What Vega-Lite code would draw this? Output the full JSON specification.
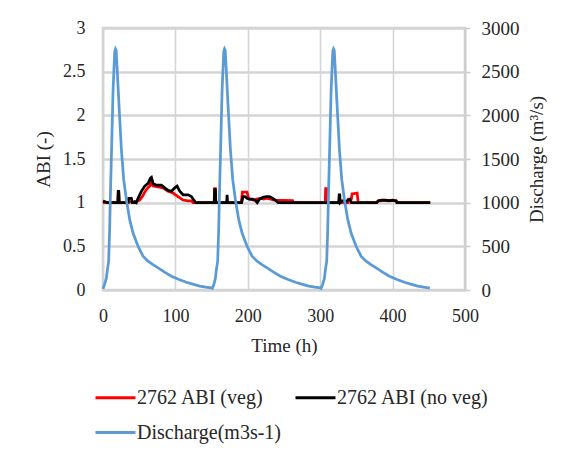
{
  "$schema": "https://vega.github.io/schema/vega-lite/v6.json",
  "width": 362,
  "height": 262,
  "autosize": {"type": "none"},
  "padding": {"left": 103, "top": 28, "right": 107, "bottom": 166},
  "background": "white",
  "config": {
    "font": "Liberation Serif",
    "view": {"stroke": "#d0d0d0", "strokeWidth": 2.5},
    "axis": {
      "labelFont": "Liberation Serif",
      "titleFont": "Liberation Serif",
      "labelFontSize": 18,
      "titleFontSize": 19,
      "titleFontWeight": "normal",
      "labelColor": "#262626",
      "titleColor": "#262626",
      "gridColor": "#d4d4d4",
      "gridOpacity": 1,
      "gridWidth": 1.5,
      "domainColor": "#cccccc",
      "domainWidth": 1.5,
      "tickColor": "#cccccc",
      "tickWidth": 1.5
    }
  },
  "datasets": {
    "veg": [
      {"t":0,"abi":1.0},{"t":20.5,"abi":1.0},{"t":21,"abi":1.1},{"t":21.8,"abi":1.1},{"t":22.4,"abi":1.0},{"t":34,"abi":1.0},{"t":38,"abi":1.01},{"t":45,"abi":1.01},{"t":50.7,"abi":1.03},{"t":55,"abi":1.08},{"t":57.6,"abi":1.12},{"t":59.9,"abi":1.15},{"t":64.5,"abi":1.19},{"t":66,"abi":1.24},{"t":67.5,"abi":1.2},{"t":69.2,"abi":1.19},{"t":76.1,"abi":1.18},{"t":83,"abi":1.17},{"t":89.9,"abi":1.13},{"t":96.8,"abi":1.11},{"t":103.7,"abi":1.07},{"t":110.6,"abi":1.03},{"t":117.5,"abi":1.02},{"t":122.1,"abi":1.02},{"t":124.4,"abi":1.0},
      {"t":153.6,"abi":1.0},{"t":154.2,"abi":1.16},{"t":155.2,"abi":1.16},{"t":155.8,"abi":1.0},{"t":191,"abi":1.0},{"t":192.5,"abi":1.12},{"t":199,"abi":1.12},{"t":201,"abi":1.05},{"t":203,"abi":1.04},{"t":208,"abi":1.03},{"t":212,"abi":1.04},{"t":218,"abi":1.05},{"t":222,"abi":1.04},{"t":226,"abi":1.05},{"t":232,"abi":1.04},{"t":236,"abi":1.03},{"t":262,"abi":1.025},{"t":263,"abi":1.0},
      {"t":307,"abi":1.0},{"t":307.5,"abi":1.16},{"t":310,"abi":1.16},{"t":310.5,"abi":1.0},{"t":338.5,"abi":1.0},{"t":339,"abi":1.04},{"t":343,"abi":1.04},{"t":344,"abi":1.1},{"t":351,"abi":1.11},{"t":352.5,"abi":1.0},{"t":378,"abi":1.0},{"t":380,"abi":1.02},{"t":395,"abi":1.025},{"t":405,"abi":1.02},{"t":406,"abi":1.0},{"t":452,"abi":1.0}
    ],
    "noveg": [
      {"t":0,"abi":1.02},{"t":3,"abi":1.01},{"t":6,"abi":1.0},{"t":20.5,"abi":1.0},{"t":21,"abi":1.13},{"t":21.8,"abi":1.13},{"t":22.4,"abi":1.0},{"t":34.6,"abi":1.0},{"t":35.5,"abi":1.05},{"t":39.2,"abi":1.05},{"t":40.5,"abi":1.0},{"t":43,"abi":1.0},{"t":44,"abi":1.01},{"t":46,"abi":1.0},{"t":48.4,"abi":1.05},{"t":53,"abi":1.13},{"t":57.6,"abi":1.19},{"t":62.2,"abi":1.22},{"t":65.5,"abi":1.28},{"t":66.9,"abi":1.29},{"t":69.2,"abi":1.22},{"t":73.8,"abi":1.2},{"t":80.7,"abi":1.2},{"t":85.3,"abi":1.17},{"t":89.9,"abi":1.14},{"t":94.5,"abi":1.13},{"t":99.1,"abi":1.17},{"t":102.3,"abi":1.19},{"t":106,"abi":1.13},{"t":110.6,"abi":1.09},{"t":117.5,"abi":1.09},{"t":122.1,"abi":1.07},{"t":125.4,"abi":1.03},{"t":128.1,"abi":1.0},
      {"t":153.6,"abi":1.0},{"t":154.2,"abi":1.15},{"t":155.2,"abi":1.15},{"t":155.8,"abi":1.0},{"t":170.8,"abi":1.0},{"t":171.4,"abi":1.09},{"t":172,"abi":1.0},{"t":191.5,"abi":1.0},{"t":193.5,"abi":1.07},{"t":196,"abi":1.07},{"t":199,"abi":1.05},{"t":202,"abi":1.04},{"t":207,"abi":1.04},{"t":211,"abi":1.02},{"t":213,"abi":1.0},{"t":216,"abi":1.04},{"t":221,"abi":1.06},{"t":226,"abi":1.07},{"t":230,"abi":1.07},{"t":234,"abi":1.05},{"t":238,"abi":1.03},{"t":242,"abi":1.0},
      {"t":325.5,"abi":1.0},{"t":326.2,"abi":1.09},{"t":327,"abi":1.09},{"t":327.6,"abi":1.0},{"t":330,"abi":1.02},{"t":333,"abi":1.02},{"t":335,"abi":1.0},{"t":338,"abi":1.03},{"t":341,"abi":1.04},{"t":343,"abi":1.0},{"t":378,"abi":1.0},{"t":380,"abi":1.02},{"t":385,"abi":1.03},{"t":390,"abi":1.03},{"t":395,"abi":1.02},{"t":400,"abi":1.03},{"t":405,"abi":1.02},{"t":406,"abi":1.0},{"t":452,"abi":1.0}
    ],
    "q": [
      {"t":0,"q":15},{"t":2,"q":60},{"t":4.6,"q":133},{"t":5.6,"q":200},{"t":7.8,"q":330},{"t":9.2,"q":700},{"t":10.1,"q":1045},{"t":11.6,"q":1530},{"t":13.9,"q":2291},{"t":16.2,"q":2730},{"t":17.3,"q":2760},{"t":18.2,"q":2745},{"t":19.4,"q":2558},{"t":22.2,"q":2101},{"t":25.4,"q":1606},{"t":28.6,"q":1263},{"t":32.3,"q":1034},{"t":36.9,"q":806},{"t":41.5,"q":653},{"t":48.4,"q":501},{"t":55.3,"q":387},{"t":62.2,"q":330},{"t":69,"q":290},{"t":76.1,"q":253},{"t":85,"q":205},{"t":94.5,"q":158},{"t":105,"q":120},{"t":115.2,"q":89},{"t":125,"q":65},{"t":133.7,"q":44},{"t":142,"q":32},{"t":149.8,"q":25},
      {"t":151,"q":20},{"t":153,"q":60},{"t":155.2,"q":133},{"t":156.4,"q":220},{"t":158.4,"q":330},{"t":159.8,"q":700},{"t":160.7,"q":1045},{"t":162.2,"q":1530},{"t":164.5,"q":2291},{"t":166.8,"q":2730},{"t":167.9,"q":2760},{"t":168.8,"q":2745},{"t":170,"q":2558},{"t":172.8,"q":2101},{"t":176,"q":1606},{"t":179.2,"q":1263},{"t":182.9,"q":1034},{"t":187.5,"q":806},{"t":192.1,"q":653},{"t":199,"q":501},{"t":205.9,"q":387},{"t":212.8,"q":330},{"t":219.6,"q":290},{"t":226.7,"q":253},{"t":235.6,"q":205},{"t":245.1,"q":158},{"t":255.6,"q":120},{"t":265.8,"q":89},{"t":275.6,"q":65},{"t":284.3,"q":44},{"t":292.6,"q":32},{"t":300.4,"q":25},
      {"t":301.2,"q":20},{"t":303.2,"q":60},{"t":305.8,"q":133},{"t":307,"q":220},{"t":309,"q":330},{"t":310.4,"q":700},{"t":311.3,"q":1045},{"t":312.8,"q":1530},{"t":315.1,"q":2291},{"t":317.4,"q":2730},{"t":318.5,"q":2760},{"t":319.4,"q":2745},{"t":320.6,"q":2558},{"t":323.4,"q":2101},{"t":326.6,"q":1606},{"t":329.8,"q":1263},{"t":333.5,"q":1034},{"t":338.1,"q":806},{"t":342.7,"q":653},{"t":349.6,"q":501},{"t":356.5,"q":387},{"t":363.4,"q":330},{"t":370.2,"q":290},{"t":377.3,"q":253},{"t":386.2,"q":205},{"t":395.7,"q":158},{"t":406.2,"q":120},{"t":416.4,"q":89},{"t":426.2,"q":65},{"t":434.9,"q":44},{"t":443.2,"q":32},{"t":451.5,"q":22}
    ]
  },
  "layer": [
    {
      "layer": [
        {
          "data": {"name": "veg"},
          "mark": {"type": "line", "strokeWidth": 2.75},
          "encoding": {
            "x": {"field": "t", "type": "quantitative", "scale": {"domain": [0, 500], "nice": false},
              "axis": {"title": "Time (h)", "values": [0, 100, 200, 300, 400, 500], "grid": true, "ticks": false, "domain": false, "labelPadding": 17, "titlePadding": 11, "labelFlush": false, "labelFont": "Liberation Serif", "titleFont": "Liberation Serif", "labelFontSize": 18, "titleFontSize": 19}},
            "y": {"field": "abi", "type": "quantitative", "scale": {"domain": [0, 3], "nice": false},
              "axis": {"title": "ABI (-)", "values": [0, 0.5, 1, 1.5, 2, 2.5, 3], "format": "~g", "grid": true, "gridColor": "#d4d4d4", "gridWidth": 2.5, "ticks": false, "domain": false, "labelPadding": 18, "titlePadding": 9, "labelFlush": false, "labelFont": "Liberation Serif", "titleFont": "Liberation Serif", "labelFontSize": 18, "titleFontSize": 19}},
            "color": {"datum": "2762 ABI (veg)", "type": "nominal",
              "scale": {"domain": ["2762 ABI (veg)", "2762 ABI (no veg)", "Discharge(m3s-1)"], "range": ["#ff0000", "#000000", "#5b9bd5"]},
              "legend": {"orient": "none", "legendX": -9, "legendY": 348, "direction": "horizontal", "columns": 2, "title": null, "gridAlign": "each",
                "symbolType": "stroke", "symbolSize": 1600, "symbolStrokeWidth": 3, "labelFontSize": 20, "labelFont": "Liberation Serif",
                "labelColor": "#262626", "columnPadding": 7, "rowPadding": 3, "labelOffset": 0, "padding": 0, "labelLimit": 300}}
          }
        },
        {
          "data": {"name": "noveg"},
          "mark": {"type": "line", "strokeWidth": 2.75},
          "encoding": {
            "x": {"field": "t", "type": "quantitative"},
            "y": {"field": "abi", "type": "quantitative"},
            "color": {"datum": "2762 ABI (no veg)", "type": "nominal"}
          }
        }
      ]
    },
    {
      "data": {"name": "q"},
      "mark": {"type": "line", "strokeWidth": 2.75},
      "encoding": {
        "x": {"field": "t", "type": "quantitative"},
        "y": {"field": "q", "type": "quantitative", "scale": {"domain": [0, 3000], "nice": false},
          "axis": {"orient": "right", "title": "Discharge (m³/s)", "values": [0, 500, 1000, 1500, 2000, 2500, 3000], "format": "d", "grid": false, "ticks": true, "tickSize": 5, "domain": true, "labelPadding": 11, "titlePadding": 8, "titleAngle": 270, "titleBaseline": "top", "labelFontSize": 19, "labelFlush": false, "labelFont": "Liberation Serif", "titleFont": "Liberation Serif", "titleFontSize": 19}},
        "color": {"datum": "Discharge(m3s-1)", "type": "nominal"}
      }
    }
  ],
  "resolve": {"scale": {"y": "independent"}}
}
